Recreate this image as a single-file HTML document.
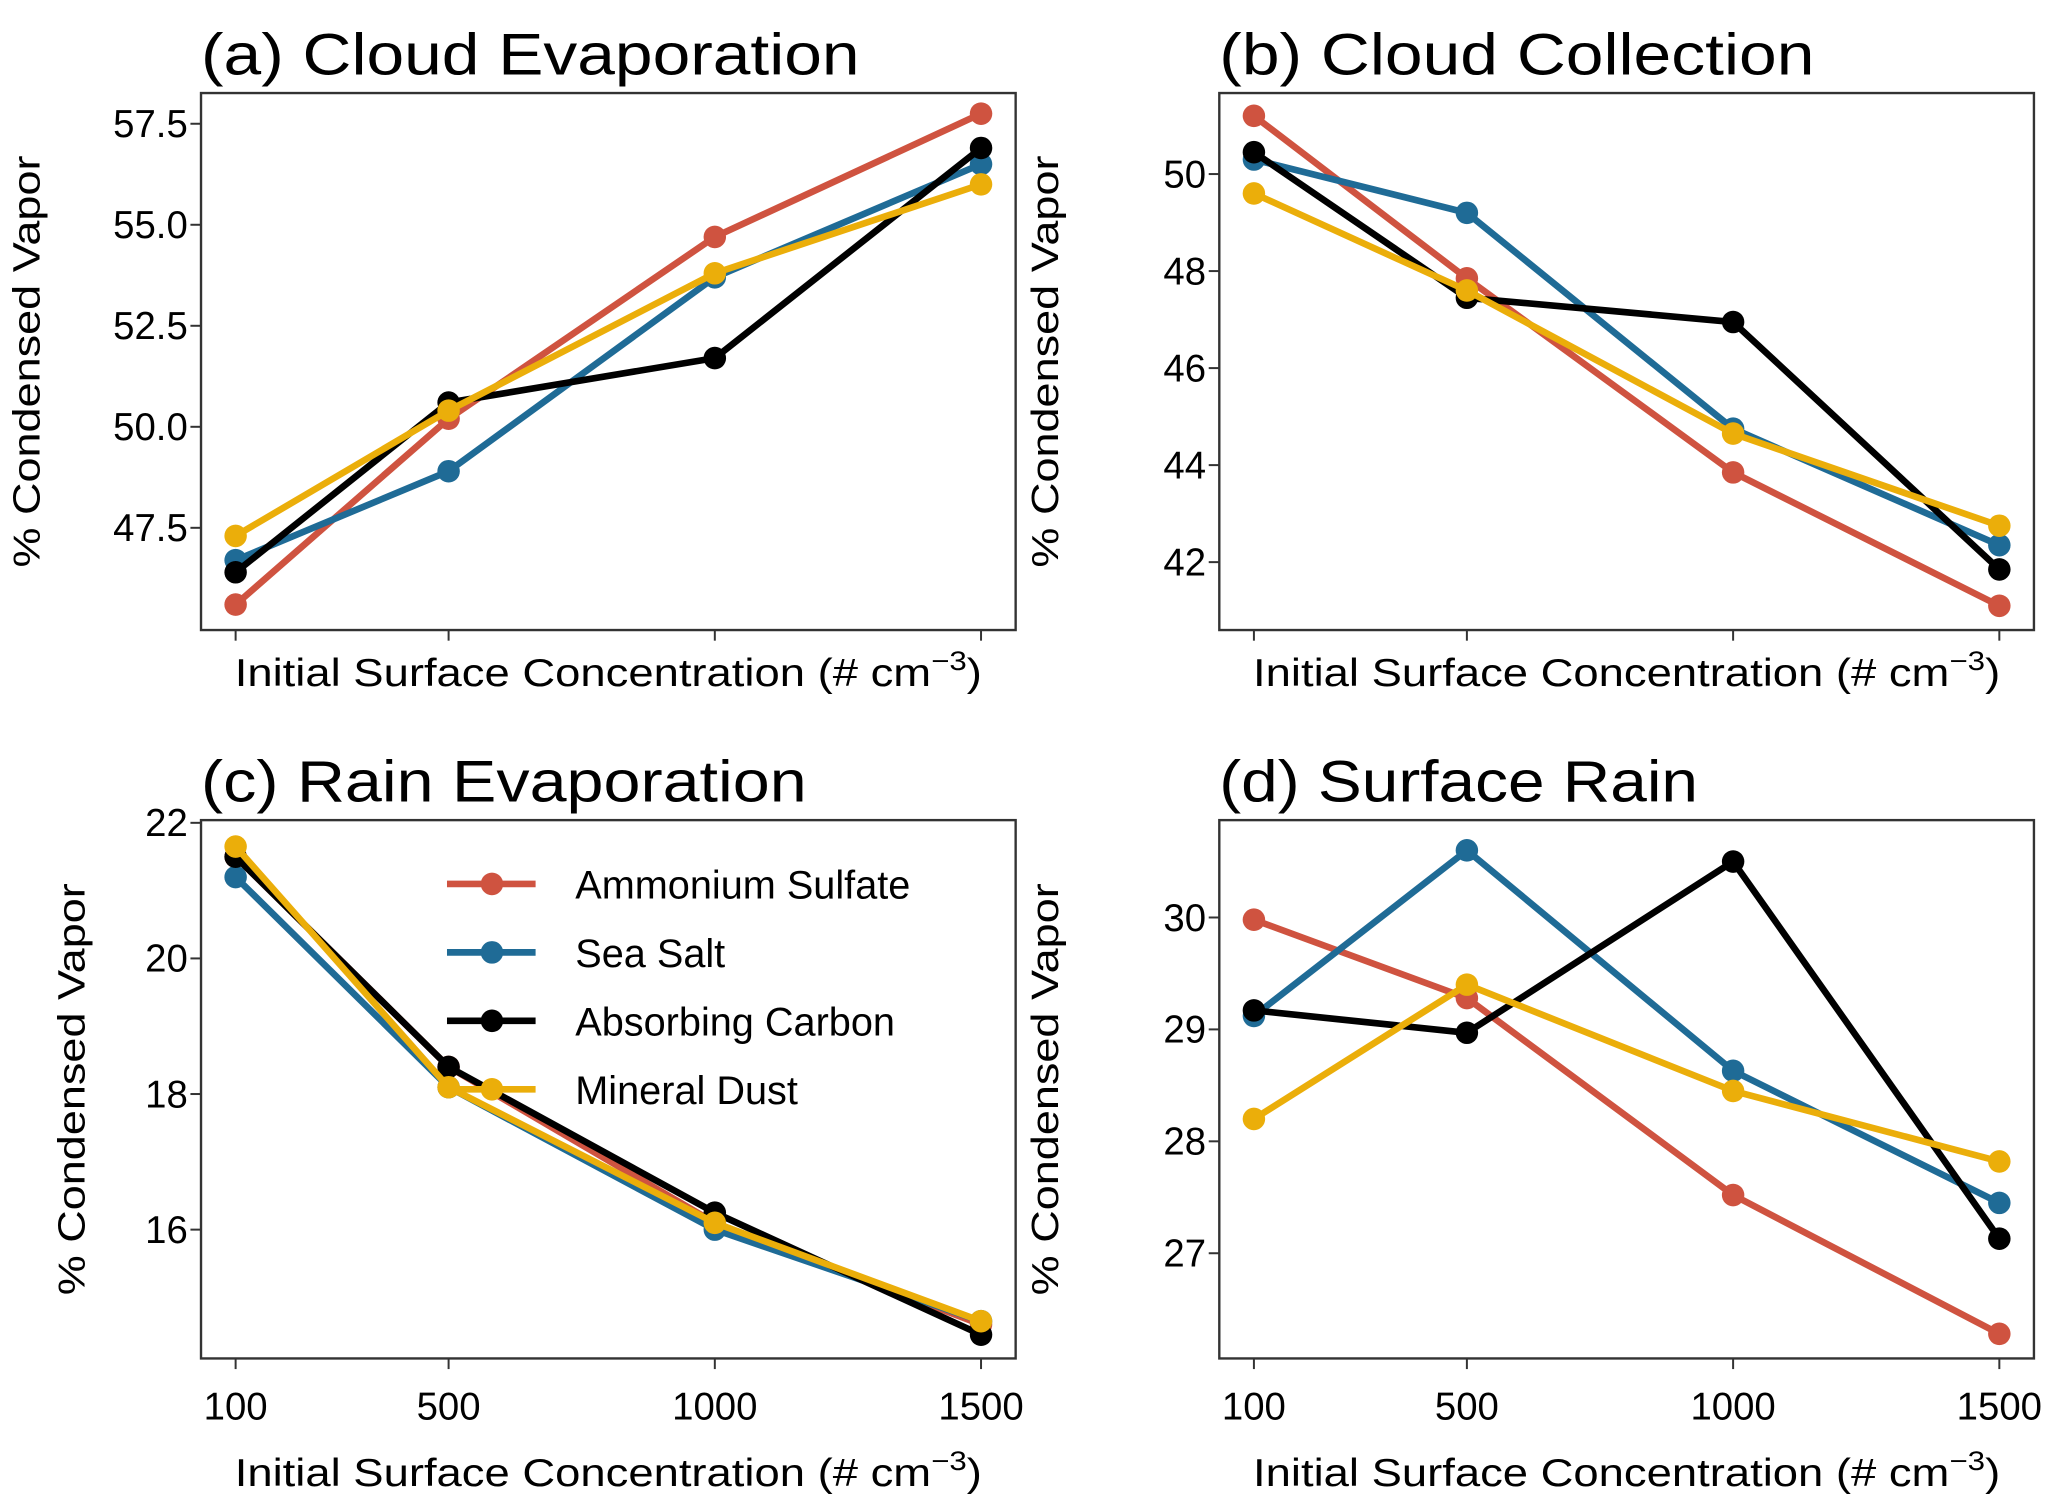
<!DOCTYPE html>
<html><head><meta charset="utf-8"><style>
html,body{margin:0;padding:0;background:#fff;}
svg{display:block;}
text{font-family:"Liberation Sans",sans-serif;fill:#000;}
</style></head><body>
<svg id="fig" width="2067" height="1502" viewBox="0 0 1563 1130" preserveAspectRatio="none" xmlns="http://www.w3.org/2000/svg"></svg>
<script>
const xCats = [100, 500, 1000, 1500];
const xTickLabels = ["100", "500", "1000", "1500"];
const seriesNames = ["Ammonium Sulfate", "Sea Salt", "Absorbing Carbon", "Mineral Dust"];
const seriesColors = ["#cf5340", "#1f6b96", "#000000", "#ebae0a"];
const aAS = [45.6, 50.2, 54.7, 57.75];
const aSS = [46.7, 48.9, 53.7, 56.5];
const aAC = [46.4, 50.6, 51.7, 56.9];
const aMD = [47.3, 50.4, 53.8, 56.0];
const bAS = [51.2, 47.85, 43.85, 41.1];
const bSS = [50.3, 49.2, 44.75, 42.35];
const bAC = [50.45, 47.45, 46.95, 41.85];
const bMD = [49.6, 47.6, 44.65, 42.75];
const cAS = [21.5, 18.4, 16.1, 14.6];
const cSS = [21.2, 18.1, 16.0, 14.65];
const cAC = [21.5, 18.4, 16.25, 14.45];
const cMD = [21.65, 18.1, 16.1, 14.65];
const dAS = [29.98, 29.28, 27.52, 26.28];
const dSS = [29.12, 30.6, 28.63, 27.45];
const dAC = [29.17, 28.97, 30.5, 27.13];
const dMD = [28.2, 29.4, 28.45, 27.82];
const aTicks = [47.5, 50.0, 52.5, 55.0, 57.5];
const bTicks = [42, 44, 46, 48, 50];
const cTicks = [16, 18, 20, 22];
const dTicks = [27, 28, 29, 30];

const NS = "http://www.w3.org/2000/svg";
const svg = document.getElementById('fig');
function mk(tag, attrs, parent) {
  const e = document.createElementNS(NS, tag);
  for (const k in attrs) e.setAttribute(k, attrs[k]);
  (parent || svg).appendChild(e);
  return e;
}
const panels = [
  {key:'a', title:'(a) Cloud Evaporation', box:[152,70,768,474], ylim:[44.97,58.26], ticks:aTicks, fmt:v=>v.toFixed(1), data:[aAS,aSS,aAC,aMD], xl:false},
  {key:'b', title:'(b) Cloud Collection', box:[922,70,1538,474], ylim:[40.6,51.67], ticks:bTicks, fmt:v=>String(v), data:[bAS,bSS,bAC,bMD], xl:false},
  {key:'c', title:'(c) Rain Evaporation', box:[152,617,768,1022], ylim:[14.1,22.04], ticks:cTicks, fmt:v=>String(v), data:[cAS,cSS,cAC,cMD], xl:true, legend:true},
  {key:'d', title:'(d) Surface Rain', box:[922,617,1538,1022], ylim:[26.06,30.87], ticks:dTicks, fmt:v=>String(v), data:[dAS,dSS,dAC,dMD], xl:true}
];
const titleW = {a:498, b:450, c:458, d:362};
panels.forEach(p => {
  const [x0,y0,x1,y1] = p.box;
  const g = mk('g', {});
  
  
  const xs = v => x0 + (v - 35) / (1565 - 35) * (x1 - x0);
  const ys = v => y1 - (v - p.ylim[0]) / (p.ylim[1] - p.ylim[0]) * (y1 - y0);
  const t = mk('text', {x:x0, y:y0-14, 'font-size':44, textLength:titleW[p.key], lengthAdjust:'spacingAndGlyphs'}, g);
  t.textContent = p.title;
  
  
  // x ticks
  xCats.forEach((c,i) => {
    mk('line', {x1:xs(c), x2:xs(c), y1:y1, y2:y1+8, stroke:'#333', 'stroke-width':1.5}, g);
    if (p.xl) {
      const tl = mk('text', {x:xs(c), y:y1+46, 'font-size':29, 'text-anchor':'middle'}, g);
      tl.textContent = xTickLabels[i];
      
      
    }
  });
  const xlab = mk('text', {x:(xs(100)+xs(1500))/2, y: p.xl ? y1+96 : y1+42, 'font-size':29, 'text-anchor':'middle', textLength:565, lengthAdjust:'spacingAndGlyphs'}, g);
  xlab.innerHTML = 'Initial Surface Concentration (# cm<tspan dy="-12" font-size="20">\u22123</tspan><tspan dy="12">)</tspan>';
  
  
  // y ticks
  p.ticks.forEach(v => {
    mk('line', {x1:x0-8, x2:x0, y1:ys(v), y2:ys(v), stroke:'#333', 'stroke-width':1.5}, g);
    const tl = mk('text', {x:x0-10, y:ys(v)+10, 'font-size':29, 'text-anchor':'end'}, g);
    tl.textContent = p.fmt(v);
    
    
  });
  const lblX = (p.key === 'c') ? x0 - 88 : x0 - 122;
  const yc = (y0 + y1) / 2;
  const yl = mk('text', {x:lblX, y:yc, 'font-size':29, 'text-anchor':'middle', transform:`rotate(-90 ${lblX} ${yc})`, textLength:310, lengthAdjust:'spacingAndGlyphs'}, g);
  yl.textContent = '% Condensed Vapor';
  
  
  // series
  p.data.forEach((arr, si) => {
    const pts = arr.map((v,i) => xs(xCats[i]) + ',' + ys(v)).join(' ');
    const pl = mk('polyline', {points:pts, fill:'none', stroke:seriesColors[si], 'stroke-width':5, 'stroke-linejoin':'round'}, g);
    
    
    arr.forEach((v,i) => {
      const c = mk('circle', {cx:xs(xCats[i]), cy:ys(v), r:8.5, fill:seriesColors[si]}, g);
      
      
    });
  });
  const fr = mk('rect', {x:x0, y:y0, width:x1-x0, height:y1-y0, fill:'none', stroke:'#333', 'stroke-width':1.8}, g);
  
  
  if (p.legend) {
    seriesNames.forEach((n, si) => {
      const ly = 665 + si * 51.5;
      const lg = mk('g', {}, g);
      
      
      mk('line', {x1:338, x2:405, y1:ly, y2:ly, stroke:seriesColors[si], 'stroke-width':5}, lg);
      mk('circle', {cx:372, cy:ly, r:8.5, fill:seriesColors[si]}, lg);
      const lt = mk('text', {x:435, y:ly+11, 'font-size':30}, lg);
      lt.textContent = n;
    });
  }
});
</script>
</body></html>
